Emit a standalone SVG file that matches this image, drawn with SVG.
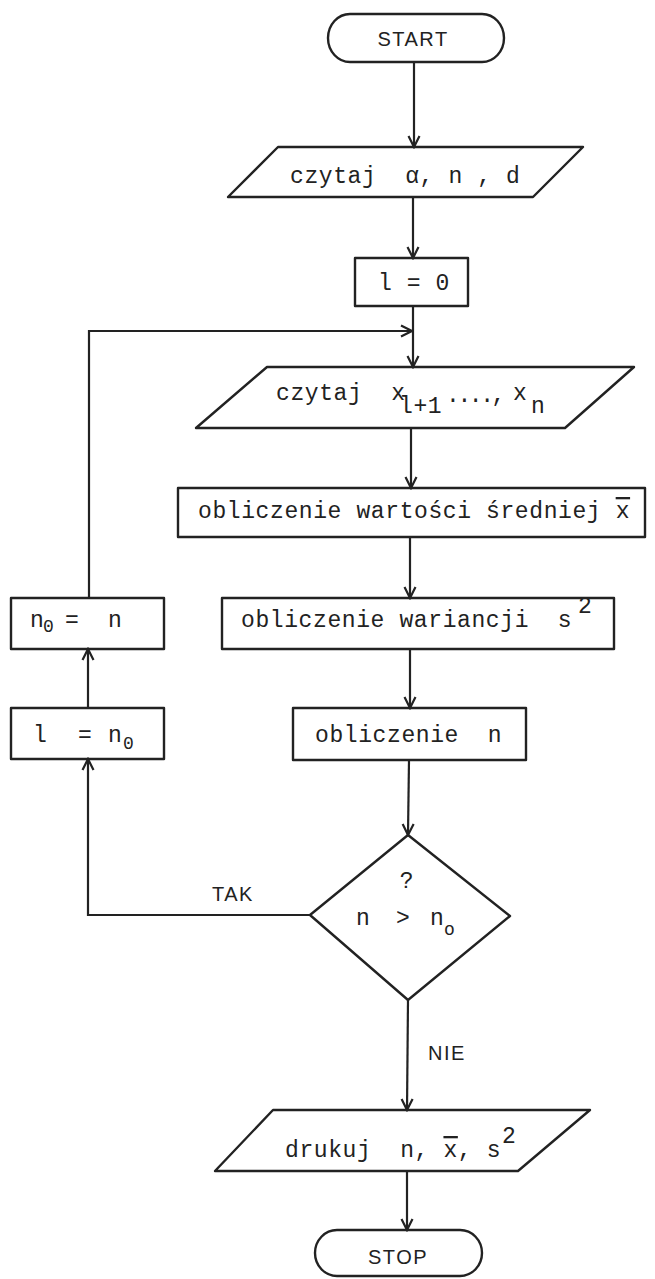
<svg xmlns="http://www.w3.org/2000/svg" width="655" height="1279" viewBox="0 0 655 1279">
<style>
.shape{fill:none;stroke:#222;stroke-width:2.4;stroke-linejoin:round}
.conn{fill:none;stroke:#222;stroke-width:2.2}
.mono{font-family:"Liberation Mono","DejaVu Sans Mono",monospace;font-size:23px;fill:#222;letter-spacing:0.6px}
.sans{font-family:"Liberation Sans",Arial,sans-serif;font-size:20px;fill:#222;letter-spacing:1.5px}
.bar{text-decoration:overline}
</style>
<defs>
<marker id="arr" viewBox="-12 -7 14 14" markerWidth="14" markerHeight="14" refX="0" refY="0" orient="auto" markerUnits="userSpaceOnUse">
<path d="M-11,-5.5 L0,0 L-11,5.5" fill="none" stroke="#222" stroke-width="2.2"/>
</marker>
</defs>
<rect width="655" height="1279" fill="#fff"/>

<g id="connectors">
<line class="conn" x1="414" y1="62" x2="414" y2="147" marker-end="url(#arr)"/>
<line class="conn" x1="413" y1="197" x2="413" y2="258" marker-end="url(#arr)"/>
<line class="conn" x1="413" y1="306" x2="413" y2="367" marker-end="url(#arr)"/>
<polyline class="conn" points="89,598 89,331 412,331" marker-end="url(#arr)"/>
<line class="conn" x1="411" y1="428" x2="411" y2="488" marker-end="url(#arr)"/>
<line class="conn" x1="410" y1="537" x2="410" y2="598" marker-end="url(#arr)"/>
<line class="conn" x1="410" y1="649" x2="410" y2="708" marker-end="url(#arr)"/>
<line class="conn" x1="409" y1="760" x2="408" y2="835" marker-end="url(#arr)"/>
<line class="conn" x1="408" y1="1000" x2="407" y2="1110" marker-end="url(#arr)"/>
<line class="conn" x1="407" y1="1171" x2="407" y2="1230" marker-end="url(#arr)"/>
<polyline class="conn" points="310,915 88,915 88,759" marker-end="url(#arr)"/>
<line class="conn" x1="88" y1="708" x2="88" y2="649" marker-end="url(#arr)"/>
<text class="sans" x="212" y="901">TAK</text>
<text class="sans" x="428" y="1060">NIE</text>
</g>

<g id="start">
<path class="shape" d="M350,14 H482 A22,24 0 0 1 482,62 H350 A22,24 0 0 1 350,14 Z"/>
<text class="sans" x="413" y="46" text-anchor="middle">START</text>
</g>

<g id="read1">
<polygon class="shape" points="278,147 583,147 533,197 228,197"/>
<text class="mono" x="290" y="183" xml:space="preserve">czytaj  α, n , d</text>
</g>

<g id="init">
<rect class="shape" x="355" y="258" width="113" height="48"/>
<text class="mono" x="378" y="290" xml:space="preserve">l = 0</text>
</g>

<g id="read2">
<polygon class="shape" points="267,367 634,367 565,428 196,428"/>
<text class="mono" x="276" y="400" xml:space="preserve">czytaj  x<tspan x="399" y="413">l+1</tspan><tspan x="446" y="402" textLength="60" lengthAdjust="spacing">....,</tspan><tspan x="513" y="400">x</tspan><tspan x="531" y="413">n</tspan></text>
</g>

<g id="mean">
<rect class="shape" x="178" y="488" width="467" height="49"/>
<text class="mono" x="198" y="518" xml:space="preserve">obliczenie wartości średniej <tspan class="bar">x</tspan></text>
</g>

<g id="var">
<rect class="shape" x="222" y="598" width="392" height="51"/>
<text class="mono" x="241" y="627" xml:space="preserve">obliczenie wariancji  s<tspan x="578" y="613">2</tspan></text>
</g>

<g id="n0n">
<rect class="shape" x="11" y="598" width="153" height="51"/>
<text class="mono" x="30" y="627">n<tspan x="43" y="632" font-size="18">0</tspan><tspan x="65" y="627">=</tspan><tspan x="108" y="627">n</tspan></text>
</g>

<g id="calcn">
<rect class="shape" x="293" y="708" width="233" height="52"/>
<text class="mono" x="315" y="742" xml:space="preserve">obliczenie  n</text>
</g>

<g id="ln0">
<rect class="shape" x="11" y="708" width="153" height="51"/>
<text class="mono" x="33" y="742">l<tspan x="78" y="742">=</tspan><tspan x="108" y="742">n</tspan><tspan x="123" y="749" font-size="18">0</tspan></text>
</g>

<g id="decision">
<polygon class="shape" points="408,835 510,916 408,1000 310,915"/>
<text class="mono" x="407" y="888" text-anchor="middle">?</text>
<text class="mono" x="356" y="925">n<tspan x="396" y="925">&gt;</tspan><tspan x="430" y="925">n</tspan><tspan x="444" y="935" font-size="18">o</tspan></text>
</g>

<g id="print">
<polygon class="shape" points="273,1110 590,1110 518,1171 215,1171"/>
<text class="mono" x="285" y="1157" xml:space="preserve">drukuj  n, <tspan class="bar">x</tspan>, s<tspan x="502" y="1143">2</tspan></text>
</g>

<g id="stop">
<path class="shape" d="M337,1230 H460 A22,23 0 0 1 460,1276 H337 A22,23 0 0 1 337,1230 Z"/>
<text class="sans" x="398" y="1264" text-anchor="middle">STOP</text>
</g>
</svg>
